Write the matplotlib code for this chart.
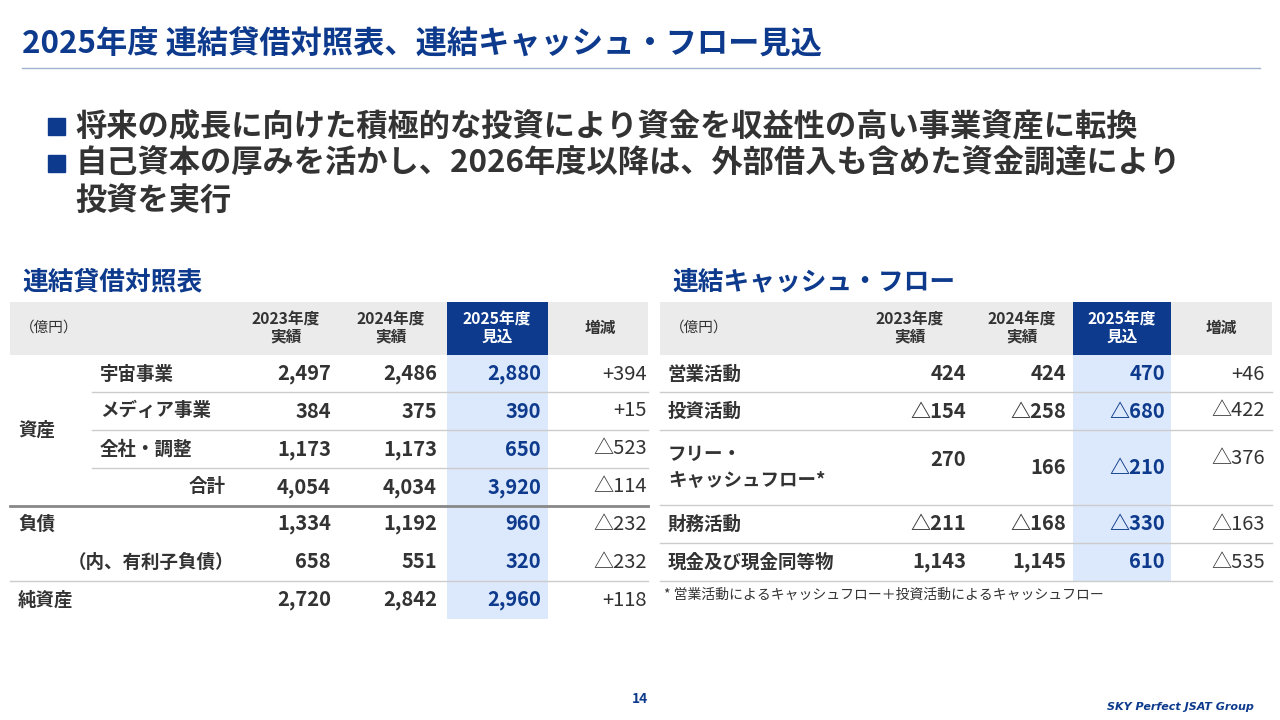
import matplotlib.pyplot as plt
from matplotlib.patches import Rectangle

plt.rcParams['font.family'] = 'Noto Sans CJK JP'

NAVY = '#0D3A8C'
TXT = '#333333'
LBLUE = '#DCE8FB'
GRAY = '#EBEBEB'

title = '2025年度 連結貸借対照表、連結キャッシュ・フロー見込'
bullets = ['将来の成長に向けた積極的な投資により資金を収益性の高い事業資産に転換',
           '自己資本の厚みを活かし、2026年度以降は、外部借入も含めた資金調達により',
           '投資を実行']
col_heads = ['2023年度\n実績', '2024年度\n実績', '2025年度\n見込', '増減']

bs_labels = ['宇宙事業', 'メディア事業', '全社・調整', '合計', '負債', '（内、有利子負債）', '純資産']
bs_2023 = ['2,497', '384', '1,173', '4,054', '1,334', '658', '2,720']
bs_2024 = ['2,486', '375', '1,173', '4,034', '1,192', '551', '2,842']
bs_2025 = ['2,880', '390', '650', '3,920', '960', '320', '2,960']
bs_diff = ['+394', '+15', '△523', '△114', '△232', '△232', '+118']

cf_labels = ['営業活動', '投資活動', 'フリー・\nキャッシュフロー*', '財務活動', '現金及び現金同等物']
cf_2023 = ['424', '△154', '270', '△211', '1,143']
cf_2024 = ['424', '△258', '166', '△168', '1,145']
cf_2025 = ['470', '△680', '△210', '△330', '610']
cf_diff = ['+46', '△422', '△376', '△163', '△535']

NUM = 14.5
LAB = 13.3

fig = plt.figure(figsize=(12.8, 7.2), dpi=100)
ax = fig.add_axes([0, 0, 1, 1])
ax.set_xlim(0, 1280)
ax.set_ylim(720, 0)
ax.axis('off')

# header
ax.text(22, 45, title, fontsize=22.5, fontweight='bold', color=NAVY, va='center')
ax.plot([22, 1260], [68, 68], color='#9FB3CF', lw=1)
for y in [127, 164]:
    ax.add_patch(Rectangle((48, y - 9), 17, 17, color=NAVY))
for y, b in zip([127, 164, 202], bullets):
    ax.text(75, y, b, fontsize=22.5, fontweight='bold', color=TXT, va='center')

ax.text(22, 282, '連結貸借対照表', fontsize=18.5, fontweight='bold', color=NAVY, va='center')
ax.text(672, 282, '連結キャッシュ・フロー', fontsize=18.5, fontweight='bold', color=NAVY, va='center')


def header(x0, x1, cols, hl):
    ax.add_patch(Rectangle((x0, 302), x1 - x0, 53, color=GRAY, lw=0))
    ax.add_patch(Rectangle((hl[0], 302), hl[1] - hl[0], 53, color=NAVY, lw=0))
    ax.text(x0 + 10, 328, '（億円）', fontsize=10.5, color=TXT, va='center')
    for (cx, h), col in zip(cols, col_heads):
        c = 'white' if col.startswith('2025') else TXT
        ax.text(cx, 328, h, fontsize=11.3, fontweight='bold', color=c, ha='center', va='center',
                linespacing=1.05)


# left table
lx0, lx1 = 10, 648
lcols = [(286, col_heads[0]), (391, col_heads[1]), (497, col_heads[2]), (600, col_heads[3])]
header(lx0, lx1, lcols, (447, 548))
ax.add_patch(Rectangle((447, 355), 101, 264, color=LBLUE, lw=0))
lrows = [374, 411, 449, 487, 524, 562, 600]
lx_label = [100, 100, 100, 226, 18, 68, 18]
for i, y in enumerate(lrows):
    ha = 'right' if i == 3 else 'left'
    ax.text(lx_label[i], y, bs_labels[i], fontsize=LAB, fontweight='bold', color=TXT, ha=ha, va='center')
    ax.text(331, y, bs_2023[i], fontsize=NUM, fontweight='bold', color=TXT, ha='right', va='center')
    ax.text(437, y, bs_2024[i], fontsize=NUM, fontweight='bold', color=TXT, ha='right', va='center')
    ax.text(541, y, bs_2025[i], fontsize=NUM, fontweight='bold', color=NAVY, ha='right', va='center')
    ax.text(647, y, bs_diff[i], fontsize=NUM, color=TXT, ha='right', va='center')
ax.text(18, 430, '資産', fontsize=LAB, fontweight='bold', color=TXT, va='center')
for y in [392, 430, 468]:
    ax.plot([92, lx1], [y, y], color='#CCCCCC', lw=1)
ax.plot([lx0, lx1], [506, 506], color='#888888', lw=2)
ax.plot([lx0, lx1], [581, 581], color='#CCCCCC', lw=1)

# right table
rx0, rx1 = 660, 1272
rcols = [(910, col_heads[0]), (1022, col_heads[1]), (1122, col_heads[2]), (1221, col_heads[3])]
header(rx0, rx1, rcols, (1073, 1171))
ax.add_patch(Rectangle((1073, 355), 98, 226, color=LBLUE, lw=0))
rrows = [374, 411, 467, 524, 562]
for i, y in enumerate(rrows):
    ax.text(668, y, cf_labels[i], fontsize=LAB, fontweight='bold', color=TXT, va='center', linespacing=1.45)
    yy = y - 8 if i == 2 else y
    ax.text(966, yy, cf_2023[i], fontsize=NUM, fontweight='bold', color=TXT, ha='right', va='center')
    ax.text(1066, y, cf_2024[i], fontsize=NUM, fontweight='bold', color=TXT, ha='right', va='center')
    ax.text(1165, y, cf_2025[i], fontsize=NUM, fontweight='bold', color=NAVY, ha='right', va='center')
    ax.text(1265, yy, cf_diff[i], fontsize=NUM, color=TXT, ha='right', va='center')
for y in [392, 430, 505, 543, 581]:
    ax.plot([rx0, rx1], [y, y], color='#CCCCCC', lw=1)
ax.text(664, 595, '* 営業活動によるキャッシュフロー＋投資活動によるキャッシュフロー', fontsize=10,
        color=TXT, va='center')

# footer
ax.text(640, 699, '14', fontsize=10, fontweight='bold', color=NAVY, ha='center', va='center')
ax.text(1254, 707, 'SKY Perfect JSAT Group', fontsize=8, fontweight='bold', fontstyle='italic',
        color=NAVY, ha='right', va='center', family='DejaVu Sans')

fig.savefig('out.png', dpi=100)
